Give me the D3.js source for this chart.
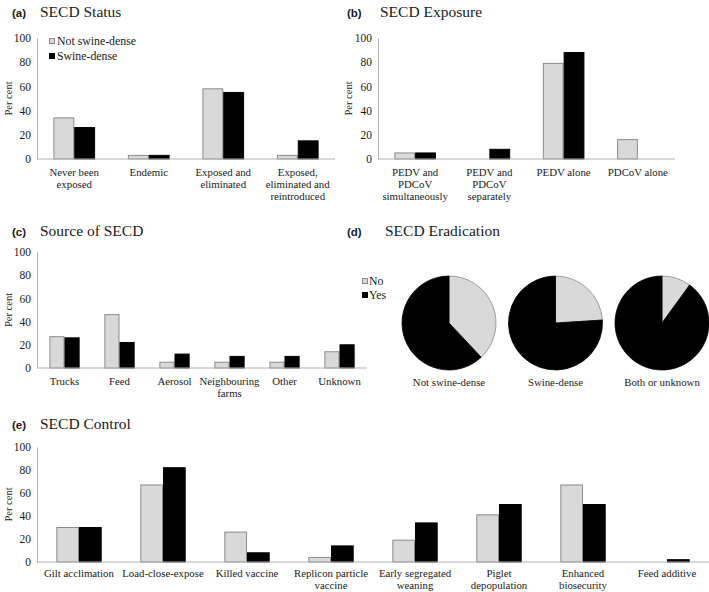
<!DOCTYPE html>
<html><head><meta charset="utf-8">
<script src="https://cdn.jsdelivr.net/npm/d3@7"></script>
<style>
html,body{margin:0;padding:0;background:#fff;}
svg{display:block;}
</style>
</head><body>
<svg id="chart" width="709" height="592"></svg>
<script>
// ---------- DATA ----------
const seriesNames = ["Not swine-dense", "Swine-dense"];
const yTicks = [0, 20, 40, 60, 80, 100];

const statusCats = [["Never been","exposed"],["Endemic"],["Exposed and","eliminated"],["Exposed,","eliminated and","reintroduced"]];
const statusNot = [34, 3, 58, 3];
const statusDense = [26, 3, 55, 15];

const exposureCats = [["PEDV and","PDCoV","simultaneously"],["PEDV and","PDCoV","separately"],["PEDV alone"],["PDCoV alone"]];
const exposureNot = [5, 0, 79, 16];
const exposureDense = [5, 8, 88, 0];

const sourceCats = [["Trucks"],["Feed"],["Aerosol"],["Neighbouring","farms"],["Other"],["Unknown"]];
const sourceNot = [27, 46, 5, 5, 5, 14];
const sourceDense = [26, 22, 12, 10, 10, 20];

const eradLegend = ["No", "Yes"];
const eradGroups = ["Not swine-dense", "Swine-dense", "Both or unknown"];
const eradNo = [38, 24, 10];
const eradYes = [62, 76, 90];

const controlCats = [["Gilt acclimation"],["Load-close-expose"],["Killed vaccine"],["Replicon particle","vaccine"],["Early segregated","weaning"],["Piglet","depopulation"],["Enhanced","biosecurity"],["Feed additive"]];
const controlNot = [30, 67, 26, 4, 19, 41, 67, 0];
const controlDense = [30, 82, 8, 14, 34, 50, 50, 2];

// ---------- STYLE ----------
const SERIF = '"Liberation Serif","Times New Roman",serif';
const SANS = '"Liberation Sans",Arial,sans-serif';
const GREY = "#d9d9d9", GREY_STROKE = "#8c8c8c", BLACK = "#000", AXIS = "#b3b3b3", TXT = "#1a1a1a";
const svg = d3.select("#chart");

function txt(sel, size) {
  return sel.style("font-family", SERIF).style("font-size", size + "px").attr("fill", TXT);
}

function title(x, y, lab, t, tx) {
  svg.append("text").attr("x",x).attr("y",y).style("font-family",SANS).style("font-weight","bold")
    .style("font-size","11.5px").attr("fill",TXT).text(lab);
  txt(svg.append("text").attr("x",tx).attr("y",y), 15.5).text(t);
}

function barPanel(o) {
  const g = svg.append("g");
  const y = d3.scaleLinear().domain([0,100]).range([o.y0, o.y1]);
  const x = d3.scaleBand().domain(d3.range(o.cats.length)).range([o.x0, o.x1]).paddingInner(o.pad).paddingOuter(o.pad/2);
  const xs = d3.scaleBand().domain([0,1]).range([0, x.bandwidth()]);
  // y axis
  const ya = g.append("g").attr("transform",`translate(${o.x0},0)`)
    .call(d3.axisLeft(y).tickValues(yTicks).tickSize(0).tickPadding(6));
  ya.select(".domain").attr("stroke",AXIS);
  txt(ya.selectAll("text"), 11.5);
  // bars
  [o.a, o.b].forEach((arr, si) => {
    g.selectAll(null).data(arr).enter().append("rect")
      .attr("x",(d,i)=>x(i)+xs(si)+0.5)
      .attr("y",d=>y(d))
      .attr("width",xs.bandwidth()-1)
      .attr("height",d=>Math.max(0,y(0)-y(d)))
      .attr("fill",si===0?GREY:BLACK)
      .attr("stroke",si===0?GREY_STROKE:BLACK)
      .attr("stroke-width",1);
  });
  // x axis line
  const xa = g.append("g").attr("transform",`translate(0,${o.y0})`)
    .call(d3.axisBottom(x).tickSize(0).tickFormat(""));
  xa.select(".domain").attr("stroke",AXIS).attr("d",`M${o.x0},0H${o.x1}`);
  // category labels
  o.cats.forEach((lines, i) => {
    const cx = x(i)+x.bandwidth()/2;
    const t = txt(g.append("text").attr("text-anchor","middle").attr("x", cx).attr("y", o.y0+o.ly), 10.8);
    lines.forEach((l, k) => t.append("tspan").attr("x", cx).attr("dy", k===0?0:o.lh).text(l));
  });
  // y label
  txt(g.append("text").attr("transform",`translate(${o.ylx},${(o.y0+o.y1)/2}) rotate(-90)`)
    .attr("text-anchor","middle"), 10.5).text("Per cent");
  return {x,y};
}

// (a)
title(12, 17, "(a)", "SECD Status", 40);
barPanel({cats:statusCats, a:statusNot, b:statusDense, x0:37, x1:335, y0:159, y1:38, pad:0.44, ylx:12, ly:17, lh:12});
seriesNames.forEach((s,i)=>{
  svg.append("rect").attr("x",49.5).attr("y",38.5+i*15).attr("width",5).attr("height",5)
    .attr("fill",i===0?GREY:BLACK).attr("stroke",i===0?GREY_STROKE:BLACK);
  txt(svg.append("text").attr("x",57).attr("y",44.5+i*15), 11.8).text(s);
});

// (b)
title(347, 17, "(b)", "SECD Exposure", 380);
barPanel({cats:exposureCats, a:exposureNot, b:exposureDense, x0:378, x1:675, y0:159, y1:38, pad:0.44, ylx:352, ly:17, lh:12});

// (c)
title(12, 236, "(c)", "Source of SECD", 40);
barPanel({cats:sourceCats, a:sourceNot, b:sourceDense, x0:37, x1:367, y0:368, y1:252, pad:0.45, ylx:12, ly:17, lh:12});

// (d)
title(347, 236, "(d)", "SECD Eradication", 385);
eradLegend.forEach((s,i)=>{
  svg.append("rect").attr("x",362.5).attr("y",278.5+i*14).attr("width",5).attr("height",5)
    .attr("fill",i===0?GREY:BLACK).attr("stroke",i===0?GREY_STROKE:BLACK);
  txt(svg.append("text").attr("x",369).attr("y",284.5+i*14), 11.8).text(s);
});
const pie = d3.pie().sort(null).value(d=>d);
const arc = d3.arc().innerRadius(0).outerRadius(47);
const pieX = d3.scalePoint().domain(eradGroups).range([449, 662]);
eradGroups.forEach((grp, gi) => {
  const pg = svg.append("g").attr("transform",`translate(${pieX(grp)},323)`);
  pg.selectAll("path").data(pie([eradNo[gi], eradYes[gi]])).enter().append("path")
    .attr("d",arc).attr("fill",(d,i)=>i===0?GREY:BLACK)
    .attr("stroke",(d,i)=>i===0?GREY_STROKE:BLACK).attr("stroke-width",0.8);
  txt(svg.append("text").attr("x",pieX(grp)).attr("y",386).attr("text-anchor","middle"), 10.8).text(grp);
});

// (e)
title(12, 429, "(e)", "SECD Control", 40);
barPanel({cats:controlCats, a:controlNot, b:controlDense, x0:37, x1:709, y0:562, y1:447, pad:0.46, ylx:12, ly:15, lh:11.5});
</script>
</body></html>
